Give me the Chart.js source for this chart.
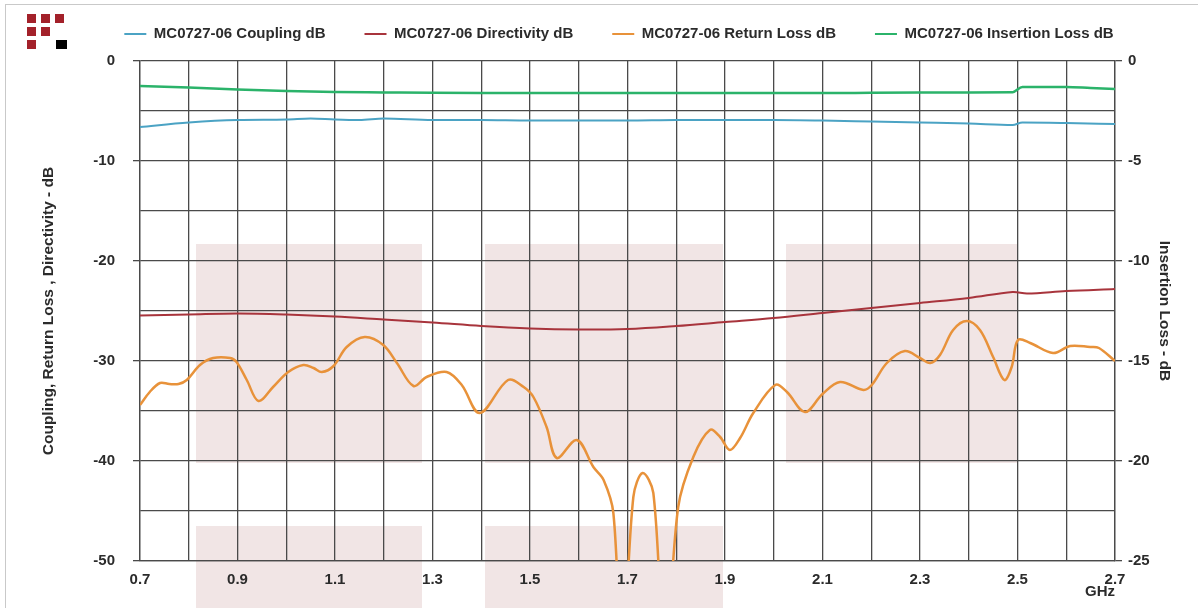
<!DOCTYPE html>
<html>
<head>
<meta charset="utf-8">
<script src="https://cdn.jsdelivr.net/npm/chart.js@4.4.1/dist/chart.umd.min.js"></script>
<style>
  body { margin: 0; background: #fff; }
  #wrap { position: relative; width: 1198px; height: 608px; overflow: hidden; }
  #frame { position: absolute; left: 5px; top: 4px; width: 1300px; height: 700px; border: 1px solid #c9c9c9; }
  .wm { position: absolute; background: #f1e5e5; }
  .sq { position: absolute; width: 9px; height: 9px; background: #a3212a; }
  #box { position: absolute; left: 0; top: 0; width: 1198px; height: 608px; }
</style>
</head>
<body>
<div id="wrap">
  <div id="frame"></div>
  <!-- faded logo watermark behind the plot -->
  <div class="wm" style="left:196px;top:244px;width:226px;height:219px"></div>
  <div class="wm" style="left:485px;top:244px;width:238px;height:219px"></div>
  <div class="wm" style="left:786px;top:244px;width:231px;height:219px"></div>
  <div class="wm" style="left:196px;top:526px;width:226px;height:100px"></div>
  <div class="wm" style="left:485px;top:526px;width:238px;height:100px"></div>
  <!-- small logo top left -->
  <div class="sq" style="left:27px;top:14px"></div>
  <div class="sq" style="left:41px;top:14px"></div>
  <div class="sq" style="left:55px;top:14px"></div>
  <div class="sq" style="left:27px;top:27px"></div>
  <div class="sq" style="left:41px;top:27px"></div>
  <div class="sq" style="left:27px;top:40px"></div>
  <div class="sq" style="left:56px;top:40px;width:11px;background:#000"></div>
  <div id="box"><canvas id="chart"></canvas></div>
</div>
<script>
// frequencies in GHz, values in dB
const couplingFreq = [0.7, 0.8, 0.9, 1.0, 1.05, 1.1, 1.15, 1.2, 1.3, 1.4, 1.5, 1.6, 1.7, 1.8, 1.9, 2.0, 2.1, 2.2, 2.3, 2.4, 2.49, 2.51, 2.6, 2.7];
const couplingDb = [-6.6, -6.15, -5.9, -5.85, -5.75, -5.85, -5.9, -5.75, -5.9, -5.9, -5.95, -5.95, -5.95, -5.9, -5.9, -5.9, -5.95, -6.05, -6.15, -6.25, -6.4, -6.15, -6.2, -6.3];

const directFreq = [0.7, 0.8, 0.9, 1.0, 1.1, 1.2, 1.3, 1.4, 1.5, 1.6, 1.7, 1.8, 1.9, 2.0, 2.1, 2.2, 2.3, 2.4, 2.49, 2.52, 2.6, 2.7];
const directDb = [-25.45, -25.35, -25.25, -25.35, -25.55, -25.85, -26.15, -26.5, -26.75, -26.85, -26.8, -26.5, -26.1, -25.7, -25.2, -24.7, -24.2, -23.7, -23.1, -23.25, -23.0, -22.8];

const returnFreq = [0.7, 0.72, 0.741, 0.76, 0.779, 0.796, 0.823, 0.85, 0.885, 0.898, 0.919, 0.943, 0.973, 1.004, 1.035, 1.056, 1.073, 1.097, 1.124, 1.161, 1.199, 1.227, 1.261, 1.288, 1.329, 1.36, 1.397, 1.455, 1.487, 1.507, 1.534, 1.555, 1.596, 1.63, 1.651, 1.671, 1.689, 1.712, 1.731, 1.753, 1.777, 1.804, 1.835, 1.869, 1.89, 1.91, 1.931, 1.958, 2.003, 2.027, 2.064, 2.1, 2.136, 2.184, 2.201, 2.232, 2.269, 2.3, 2.321, 2.341, 2.368, 2.396, 2.423, 2.45, 2.473, 2.488, 2.501, 2.526, 2.573, 2.608, 2.649, 2.667, 2.7];
const returnDb = [-34.4, -33.1, -32.2, -32.3, -32.3, -31.9, -30.4, -29.7, -29.7, -30.1, -31.9, -34.0, -32.6, -31.1, -30.4, -30.7, -31.1, -30.5, -28.6, -27.6, -28.4, -30.2, -32.5, -31.6, -31.1, -32.4, -35.2, -31.9, -32.6, -33.6, -36.6, -39.7, -37.9, -40.6, -41.9, -45.2, -60, -43.6, -41.2, -43.2, -60, -44.6, -39.6, -36.9, -37.6, -38.9, -37.7, -35.2, -32.4, -33.1, -35.1, -33.3, -32.1, -32.9, -32.4, -30.2, -29.0, -29.7, -30.2, -29.4, -26.9, -26.0, -26.9, -29.6, -31.9, -30.6, -27.9, -28.2, -29.2, -28.5, -28.6, -28.7, -30.0];

const insertFreq = [0.7, 0.8, 0.9, 1.0, 1.1, 1.2, 1.3, 1.4, 1.5, 1.6, 1.7, 1.8, 1.9, 2.0, 2.1, 2.2, 2.3, 2.4, 2.49, 2.51, 2.6, 2.65, 2.7];
const insertDb = [-1.25, -1.33, -1.42, -1.5, -1.55, -1.57, -1.59, -1.6, -1.6, -1.6, -1.6, -1.6, -1.6, -1.6, -1.6, -1.59, -1.58, -1.57, -1.56, -1.3, -1.3, -1.35, -1.4];

const seriesNames = ['MC0727-06 Coupling dB', 'MC0727-06 Directivity dB', 'MC0727-06 Return Loss dB', 'MC0727-06 Insertion Loss dB'];
const freqLabels = ['0.7', '0.9', '1.1', '1.3', '1.5', '1.7', '1.9', '2.1', '2.3', '2.5', '2.7'];
const leftLabels = ['0', '-10', '-20', '-30', '-40', '-50'];
const rightLabels = ['0', '-5', '-10', '-15', '-20', '-25'];

const gridCol = '#4a4a4a';
Chart.defaults.font.family = "'Liberation Sans', Arial, sans-serif";
Chart.defaults.font.size = 15;
Chart.defaults.font.weight = 'bold';
Chart.defaults.color = '#2b2b2b';

function pts(xs, ys) {
    return xs.map((x, i) => ({ x: x, y: ys[i] }));
}

function line(label, xs, ys, color, width, axis, smooth) {
    return {
        label: label,
        data: pts(xs, ys),
        borderColor: color,
        backgroundColor: color,
        borderWidth: width,
        pointRadius: 0,
        tension: smooth ? 0.35 : 0.4,
        cubicInterpolationMode: smooth ? 'default' : 'monotone',
        yAxisID: axis
    };
}

// move the legend where the original has it
const legendNudge = {
    id: 'legendNudge',
    beforeLayout(chart) {
        const lg = chart.legend;
        if (!lg || lg._nudged) return;
        lg._nudged = true;
        const fit = lg.fit.bind(lg);
        const draw = lg.draw.bind(lg);
        lg.fit = function () { fit(); this.height = 61; };
        lg.draw = function () {
            chart.ctx.save();
            chart.ctx.translate(20, -12.5);
            draw();
            chart.ctx.restore();
        };
    }
};

new Chart(document.getElementById('chart'), {
    type: 'line',
    data: {
        datasets: [
            line(seriesNames[0], couplingFreq, couplingDb, '#4ba3c4', 2, 'y', false),
            line(seriesNames[1], directFreq, directDb, '#a8343c', 2, 'y', true),
            line(seriesNames[2], returnFreq, returnDb, '#e8923a', 2.5, 'y', true),
            line(seriesNames[3], insertFreq, insertDb, '#2bb36a', 2.5, 'y1', false)
        ]
    },
    options: {
        responsive: true,
        maintainAspectRatio: false,
        animation: false,
        layout: { padding: 0 },
        plugins: {
            tooltip: { enabled: false },
            legend: {
                position: 'top',
                labels: {
                    boxWidth: 22,
                    boxHeight: 2,
                    padding: 39,
                    color: '#2b2b2b',
                    generateLabels: (chart) => Chart.defaults.plugins.legend.labels.generateLabels(chart)
                        .map(l => Object.assign(l, { lineWidth: 0 }))
                }
            }
        },
        scales: {
            x: {
                type: 'linear',
                min: 0.7,
                max: 2.7,
                afterFit: (s) => { s.height = 47; },
                grid: { color: gridCol, lineWidth: 1.3, drawTicks: false },
                border: { color: gridCol, width: 1.3 },
                ticks: {
                    stepSize: 0.1,
                    autoSkip: false,
                    maxRotation: 0,
                    padding: 10,
                    callback: (v) => {
                        const s = Number(v).toFixed(1);
                        return freqLabels.includes(s) ? s : '';
                    }
                },
                title: {
                    display: true,
                    text: 'GHz',
                    align: 'end',
                    font: { size: 15, weight: 'bold' },
                    padding: { top: 0, bottom: 7 }
                }
            },
            y: {
                position: 'left',
                min: -50,
                max: 0,
                afterFit: (s) => { s.width = 140; },
                grid: {
                    color: gridCol,
                    lineWidth: 1.3,
                    tickLength: 7,
                    tickColor: (c) => (c.tick && leftLabels.includes(String(c.tick.value))) ? gridCol : 'rgba(0,0,0,0)'
                },
                border: { color: gridCol, width: 1.3 },
                ticks: {
                    stepSize: 5,
                    padding: 18,
                    callback: (v) => leftLabels.includes(String(v)) ? String(v) : ''
                },
                title: {
                    display: true,
                    text: 'Coupling, Return Loss , Directivity - dB',
                    font: { size: 15.5, weight: 'bold' },
                    padding: { top: 39, bottom: 0 }
                }
            },
            y1: {
                position: 'right',
                min: -25,
                max: 0,
                afterFit: (s) => { s.width = 83; },
                grid: { drawOnChartArea: false, color: gridCol, lineWidth: 1.3, tickLength: 7 },
                border: { color: gridCol, width: 1.3 },
                ticks: {
                    stepSize: 5,
                    padding: 6,
                    callback: (v) => rightLabels.includes(String(v)) ? String(v) : ''
                },
                title: {
                    display: true,
                    text: 'Insertion Loss - dB',
                    font: { size: 15.5, weight: 'bold' },
                    padding: { top: 24, bottom: 0 }
                }
            }
        }
    },
    plugins: [legendNudge]
});
</script>
</body>
</html>
